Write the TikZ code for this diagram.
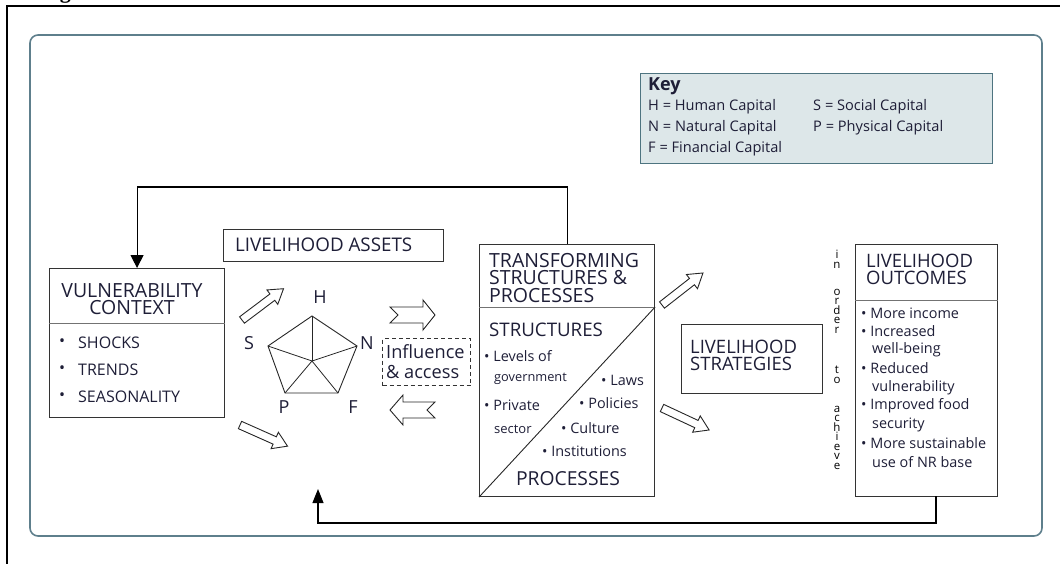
\documentclass[tikz,border=0pt]{standalone}
\usepackage{fontspec}
\setmainfont{Open Sans}
\newfontfamily\capfont{Liberation Serif}
\usetikzlibrary{arrows.meta}
\definecolor{txt}{RGB}{30,30,55}
\definecolor{framecol}{RGB}{94,127,140}
\definecolor{keyfill}{RGB}{221,231,233}
\definecolor{keyline}{RGB}{78,116,128}
\newcommand\fsz[2]{\fontsize{#1}{#2}\selectfont}
\tikzset{
  box/.style={draw=black!80, line width=1.1pt, inner sep=0, anchor=north west},
  lbl/.style={inner sep=0, anchor=west, text=txt},
  ttl/.style={lbl, align=left, font=\fsz{18.5}{17}},
  item/.style={lbl, font=\fsz{14.4}{15}},
  vitem/.style={lbl, font=\fsz{16}{16}},
  keyitem/.style={lbl, font=\fsz{14.6}{15}},
  letters/.style={inner sep=0, anchor=north, align=center, text=black, font=\fsz{11.5}{9.5}},
  fb/.style={line width=1.1pt, draw=black},
  hollow/.style={line width=0.9pt, draw=black!85, fill=white, line join=miter},
  blockarrow/.pic={\draw[hollow] (0,-4) -- (38,-4) -- (38,-9) -- (52,0) -- (38,9) -- (38,4) -- (0,4) -- cycle;}
}
\begin{document}
\begin{tikzpicture}[x=1pt,y=-1pt]
\useasboundingbox (0,0) rectangle (1060,563);
% caption, mostly above the page edge
\begin{scope}
\clip (0,0) rectangle (1060,563);
\node[anchor=south west, inner sep=0] (caption) at (40,3.2) {\capfont\bfseries\fontsize{22}{22}\selectfont Figure 1: Sustainable Livelihood Framework};
\end{scope}
% outer black frame
\draw[line width=2pt] (6.5,570) -- (6.5,6) -- (1070,6);
% rounded frame
\draw[framecol, line width=1.6pt, rounded corners=8pt] (30,35) rectangle (1042,536);
% key
\node[box, draw=keyline, fill=keyfill, line width=1.2pt, minimum width=352, minimum height=90] (key) at (640,73) {};
\node[lbl, font=\bfseries\fsz{18}{19}] (keyt) at (648,86) {Key};
\node[keyitem] (kh) at (648,107) {H = Human Capital};
\node[keyitem] (kn) at (648,128) {N = Natural Capital};
\node[keyitem] (kf) at (648,149) {F = Financial Capital};
\node[keyitem] (ks) at (813,107) {S = Social Capital};
\node[keyitem] (kp) at (813,128) {P = Physical Capital};
% vulnerability context
\node[box, minimum width=175, minimum height=149] (vc) at (49,268) {};
\draw[black!55, line width=1pt] (vc.west |- 0,323) -- (vc.east |- 0,323);
\node[inner sep=0, align=center, text=txt, font=\fsz{19.5}{17.5}] (vct) at (132,299) {VULNERABILITY\\CONTEXT};
\node[vitem] (b1) at (59,343) {•};
\node[vitem] (v1) at (78,343) {SHOCKS};
\node[vitem] (b2) at (59,370) {•};
\node[vitem] (v2) at (78,370) {TRENDS};
\node[vitem] (b3) at (59,397) {•};
\node[vitem] (v3) at (78,397) {SEASONALITY};
% livelihood assets
\node[box, minimum width=220, minimum height=32] (la) at (223,229) {};
\node[lbl, font=\fsz{18.8}{19}] (lat) at (235,245) {LIVELIHOOD ASSETS};
% pentagon
\coordinate (pc) at (312,361);
\coordinate (pH) at (312,316);
\coordinate (pN) at (357,346);
\coordinate (pF) at (338,393);
\coordinate (pP) at (285,393);
\coordinate (pS) at (268,346);
\draw[line width=0.9pt, black!85, line join=miter] (pH) -- (pN) -- (pF) -- (pP) -- (pS) -- cycle;
\foreach \v in {pH,pN,pF,pP,pS} \draw[line width=0.8pt, black!85] (pc) -- (\v);
\node[inner sep=0, text=txt, font=\fsz{18}{18}] (lH) at (320,297) {H};
\node[inner sep=0, text=txt, font=\fsz{18}{18}] (lS) at (249,343) {S};
\node[inner sep=0, text=txt, font=\fsz{18}{18}] (lN) at (367,343) {N};
\node[inner sep=0, text=txt, font=\fsz{18}{18}] (lP) at (284,407) {P};
\node[inner sep=0, text=txt, font=\fsz{18}{18}] (lF) at (353,407) {F};
% hollow arrows
\pic[rotate=37] at (242,320) {blockarrow};
\pic[rotate=-24] at (240,425) {blockarrow};
\pic[rotate=38] at (662,305) {blockarrow};
\pic[rotate=-25] at (662,408) {blockarrow};
\draw[hollow] (390,307) -- (423,307) -- (423,300) -- (435,315) -- (423,330) -- (423,323) -- (390,323) -- (398,315) -- cycle;
\draw[hollow] (390,410) -- (403,395) -- (403,402) -- (435,402) -- (427,410) -- (435,418) -- (403,418) -- (403,425) -- cycle;
% influence & access
\node[box, dashed, line width=1pt, dash pattern=on 4pt off 3pt, minimum width=88, minimum height=47] (ia) at (382,338) {};
\node[lbl, align=left, font=\fsz{18.2}{20}] (iat) at (386,362) {Influence\\\& access};
% transforming structures & processes
\node[box, minimum width=175, minimum height=252] (tsp) at (479,244) {};
\draw[black!55, line width=1pt] (tsp.west |- 0,307) -- (tsp.east |- 0,307);
\draw[line width=0.9pt, black!85] (tsp.south west) -- (tsp.east |- 0,307);
\node[lbl, align=left, font=\fsz{19.5}{17.5}] (tspt) at (489,278) {TRANSFORMING\\STRUCTURES \&\\PROCESSES};
\node[lbl, font=\fsz{18.7}{19}] (str) at (489,330) {STRUCTURES};
\node[item] (s1) at (484,356) {• Levels of};
\node[lbl, font=\fsz{12.8}{14}] (s1b) at (494,379) {government};
\node[item] (s2) at (484,405) {• Private};
\node[lbl, font=\fsz{13}{14}] (s2b) at (494,429) {sector};
\node[item] (p1) at (601,380) {• Laws};
\node[item] (p2) at (579,403) {• Policies};
\node[item] (p3) at (561,428) {• Culture};
\node[item] (p4) at (542,451) {• Institutions};
\node[inner sep=0, text=txt, font=\fsz{19.3}{19}] (proc) at (568,479) {PROCESSES};
% livelihood strategies
\node[box, minimum width=141, minimum height=69] (ls) at (681,324) {};
\node[ttl] (lst) at (690,355) {LIVELIHOOD\\STRATEGIES};
% in order to achieve
\node[letters] (w1) at (837,250) {i\\n};
\node[letters] (w2) at (837,289) {o\\r\\d\\e\\r};
\node[letters] (w3) at (837,366) {t\\o};
\node[letters] (w4) at (837,406) {a\\c\\h\\i\\e\\v\\e};
% livelihood outcomes
\node[box, minimum width=142, minimum height=252] (lo) at (855,244) {};
\draw[black!55, line width=1pt] (lo.west |- 0,300) -- (lo.east |- 0,300);
\node[ttl] (lot) at (866,269) {LIVELIHOOD\\OUTCOMES};
\node[item] (o1) at (861,313) {• More income};
\node[item] (o2) at (861,331) {• Increased};
\node[item] (o2b) at (872,350) {well-being};
\node[item] (o3) at (861,368) {• Reduced};
\node[item] (o3b) at (872,388) {vulnerability};
\node[item] (o4) at (861,406) {• Improved food};
\node[item] (o4b) at (872,425) {security};
\node[item] (o5) at (861,443) {• More sustainable};
\node[item] (o5b) at (872,462) {use of NR base};
% feedback connectors
\draw[fb, -{Triangle[width=13pt,length=13pt]}] (tsp.north) -- ++(0,-57) -| (vc.north);
\coordinate (fbstart) at (936,496);
\coordinate (fbend) at (318,489);
\draw[fb, -{Triangle[width=11pt,length=14pt]}] (fbstart) -- (936,523) -| (fbend);
\end{tikzpicture}
\end{document}
